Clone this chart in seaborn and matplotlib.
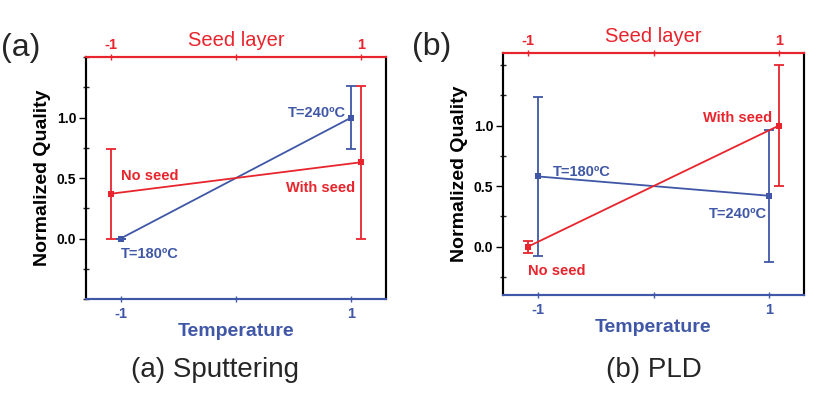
import numpy as np
import seaborn as sns
import matplotlib.pyplot as plt
from matplotlib.ticker import MultipleLocator

sns.set_theme(style="white")
plt.rcParams['font.family'] = ['Liberation Sans', 'DejaVu Sans']

RED = '#e8242c'
BLUE = '#3f57a6'

levels = [-1, 1]

# (a) Sputtering
temp_a = [0.0, 1.0]
temp_err_a = [0.0, 0.26]
seed_a = [0.37, 0.63]
seed_err_a = [0.37, 0.63]

# (b) PLD
temp_b = [0.58, 0.42]
temp_err_b = [0.66, 0.545]
seed_b = [0.0, 1.0]
seed_err_b = [0.05, 0.5]

ytick_vals = [0.0, 0.5, 1.0]
ytick_labels = ['0.0', '0.5', '1.0']


def draw(rect, temp, temp_err, seed, seed_err, ylim, notes, tag, caption, tag_xy, cap_x):
    ax = fig.add_axes(rect)
    top = ax.twiny()

    sns.lineplot(x=levels, y=temp, ax=ax, color=BLUE, lw=1.3, marker='s',
                 markersize=4, markeredgewidth=0)
    ax.errorbar(levels, temp, yerr=temp_err, fmt='none', ecolor=BLUE,
                elinewidth=1.3, capsize=3.5, capthick=1.3)
    sns.lineplot(x=levels, y=seed, ax=top, color=RED, lw=1.3, marker='s',
                 markersize=4, markeredgewidth=0)
    top.errorbar(levels, seed, yerr=seed_err, fmt='none', ecolor=RED,
                 elinewidth=1.3, capsize=3.5, capthick=1.3)

    ax.set_xlim(-1.3, 1.3)
    top.set_xlim(-1.2, 1.2)
    ax.set_ylim(*ylim)

    ax.set_xticks([-1, 1])
    ax.set_xticklabels(['-1', '1'])
    ax.xaxis.set_minor_locator(MultipleLocator(1))
    top.set_xticks([-1, 1])
    top.set_xticklabels(['-1', '1'])
    top.xaxis.set_minor_locator(MultipleLocator(1))
    ax.set_yticks(ytick_vals)
    ax.set_yticklabels(ytick_labels)
    ax.yaxis.set_minor_locator(MultipleLocator(0.25))

    for a in (ax, top):
        for s in ['left', 'right']:
            a.spines[s].set_color('black')
            a.spines[s].set_linewidth(1.5)
        a.spines['bottom'].set_color(BLUE)
        a.spines['bottom'].set_linewidth(1.5)
        a.spines['top'].set_color(RED)
        a.spines['top'].set_linewidth(1.5)

    ax.tick_params(axis='x', which='both', direction='inout', length=5, width=1,
                   colors=BLUE, labelsize=10.5, pad=3, bottom=True)
    for lab in ax.get_xticklabels():
        lab.set_fontweight('bold')
    top.tick_params(axis='x', which='both', direction='inout', length=5, width=1,
                    colors=RED, labelsize=10.5, pad=1, top=True)
    for lab in top.get_xticklabels():
        lab.set_fontweight('bold')
    ax.tick_params(axis='y', which='major', direction='out', length=5, width=1,
                   colors='black', labelsize=10, pad=2, left=True)
    ax.tick_params(axis='y', which='minor', direction='inout', length=4, width=1,
                   left=True)
    for lab in ax.get_yticklabels():
        lab.set_fontweight('bold')

    ax.set_xlabel('Temperature', color=BLUE, fontsize=14, fontweight='bold', labelpad=2)
    top.set_xlabel('Seed layer', color=RED, fontsize=14.5, labelpad=-6)
    ax.set_ylabel('Normalized Quality', color='black', fontsize=14, fontweight='bold', labelpad=4)
    top.grid(False)
    ax.grid(False)

    for txt, x, y, c in notes:
        ax.text(x, y, txt, color=c, fontsize=10.5, fontweight='bold',
                ha='left', va='center')

    fig.text(tag_xy[0], tag_xy[1], tag, fontsize=23, ha='left', va='center')
    fig.text(cap_x, 0.06, caption, fontsize=20, ha='center', va='center')


fig = plt.figure(figsize=(8.31, 3.94), dpi=100)

draw([86 / 831, 1 - 299 / 394, 300 / 831, 242 / 394],
     temp_a, temp_err_a, seed_a, seed_err_a, (-0.5, 1.5),
     [('No seed', -1.0, 0.52, RED), ('With seed', 0.43, 0.42, RED),
      ('T=240ºC', 0.45, 1.04, BLUE), ('T=180ºC', -1.0, -0.13, BLUE)],
     '(a)', '(a) Sputtering', (1 / 831, 1 - 48 / 394), 215 / 831)

draw([503 / 831, 1 - 295 / 394, 301 / 831, 242 / 394],
     temp_b, temp_err_b, seed_b, seed_err_b, (-0.4, 1.6),
     [('T=180ºC', -0.87, 0.62, BLUE), ('T=240ºC', 0.48, 0.27, BLUE),
      ('With seed', 0.43, 1.06, RED), ('No seed', -1.08, -0.2, RED)],
     '(b)', '(b) PLD', (412 / 831, 1 - 47 / 394), 654 / 831)

fig.savefig('out.png', dpi=100)
